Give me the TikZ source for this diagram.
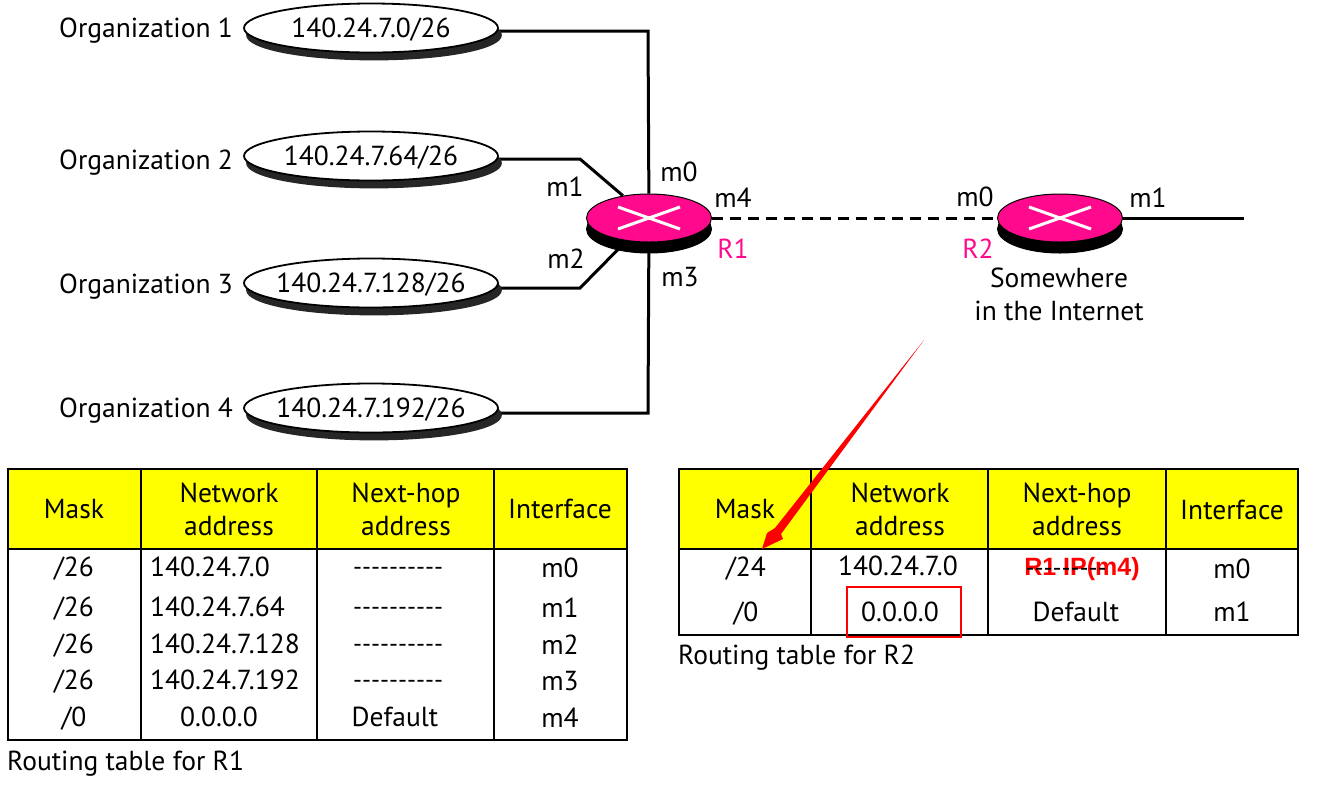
\documentclass[tikz,border=0pt]{standalone}
\usepackage{fontspec}
\setmainfont{PT Sans}
\usetikzlibrary{calc,shapes.geometric,shadows,backgrounds}
\definecolor{routerpink}{HTML}{FF0A8C}
\definecolor{headyellow}{HTML}{FFFF00}
\newcommand{\orgtext}[1]{\makebox[0pt]{\smash{\raisebox{-9.5pt}{#1}}}}
\tikzset{
  txt/.style={font=\fontsize{27.5}{33}\selectfont, inner sep=0pt, align=center},
  dashes/.style={font=\fontsize{25}{33}\selectfont, inner sep=0pt},
  org/.style={ellipse, draw=black, line width=1.8pt, fill=white, minimum width=254, minimum height=49, inner sep=0pt,
    txt, copy shadow={shadow xshift=3pt, shadow yshift=-7pt, fill=black!85, draw=black!85}},
  router/.style={ellipse, fill=routerpink, draw=black, line width=1pt, minimum width=125, minimum height=48, inner sep=0pt,
    copy shadow={shadow xshift=0pt, shadow yshift=-11pt, fill=black, draw=black}},
  link/.style={line width=3pt},
  cross/.style={white, line width=3pt},
  grid/.style={line width=2pt}
}
\begin{document}
\begin{tikzpicture}[x=1pt, y=-1pt]

\useasboundingbox (0,0) rectangle (1334,788);

\node[txt, anchor=west] (name1) at (59,31) {Organization 1};
\node[txt, anchor=west] (name2) at (59,163) {Organization 2};
\node[txt, anchor=west] (name3) at (59,287) {Organization 3};
\node[txt, anchor=west] (name4) at (59,411) {Organization 4};
\node[org] (org1) at (371,28) {\orgtext{140.24.7.0/26}};
\node[org] (org2) at (371,156) {\orgtext{140.24.7.64/26}};
\node[org] (org3) at (371,283) {\orgtext{140.24.7.128/26}};
\node[org] (org4) at (371,408) {\orgtext{140.24.7.192/26}};

\node[router] (r1) at (649,218) {};
\node[router] (r2) at (1060,218) {};
\draw[cross] ($(r1)+(-31,-11)$) -- ($(r1)+(31,11)$);
\draw[cross] ($(r1)+(-31,11)$) -- ($(r1)+(31,-11)$);
\draw[cross] ($(r2)+(-31,-11)$) -- ($(r2)+(31,11)$);
\draw[cross] ($(r2)+(-31,11)$) -- ($(r2)+(31,-11)$);
\coordinate (r2end) at (1244,218);

\begin{scope}[on background layer]
\draw[link] ([yshift=-3pt]org1.east) -- (648,31) -- (r1);
\draw[link] ([yshift=-3pt]org2.east) -- (580,159) -- (r1);
\draw[link] ([yshift=-5pt]org3.east) -- (580,288) -- (r1);
\draw[link] ([yshift=-5pt]org4.east) -- (648,413) -- (r1);
\end{scope}
\draw[link, dash pattern=on 11pt off 7pt] (r1.east) -- (r2.west);
\draw[link] (r2.east) -- (r2end);

\node[txt] (lm0) at (679,172) {m0};
\node[txt] (lm4) at (733,198) {m4};
\node[txt] (lm1) at (565,187) {m1};
\node[txt] (lm2) at (566,259) {m2};
\node[txt] (lm3) at (680,277) {m3};
\node[txt, routerpink] (lr1) at (733,249) {R1};
\node[txt] (rm0) at (975,197) {m0};
\node[txt] (rm1) at (1148,198) {m1};
\node[txt, routerpink] (lr2) at (978,249) {R2};
\node[txt] (where) at (1059,294) {Somewhere\\in the Internet};

\fill[headyellow] (8,469) rectangle (627,549);
\fill[headyellow] (679,469) rectangle (1298,549);
\draw[grid] (8,469) rectangle (627,740);
\draw[grid] (8,549) -- (627,549);
\draw[grid] (679,469) rectangle (1298,635);
\draw[grid] (679,549) -- (1298,549);
\foreach \x in {141,317,494} {
  \draw[grid] (\x,469) -- (\x,740);
}
\foreach \x in {811,988,1166} {
  \draw[grid] (\x,469) -- (\x,635);
}

\node[txt] (amask) at (74,509) {Mask};
\node[txt] (anet) at (229,509) {Network\\address};
\node[txt] (ahop) at (406,509) {Next-hop\\address};
\node[txt] (aint) at (560,509) {Interface};
\foreach \y/\net/\m [count=\i] in {567/0/0,607/64/1,644/128/2,680/192/3} {
  \node[txt] (amask\i) at (74,\y+2) {/26};
  \node[txt, anchor=west] (anet\i) at (150,\y) {140.24.7.\net};
  \node[dashes] (ahop\i) at (398,\y+4) {-{}-{}-{}-{}-{}-{}-{}-{}-{}-};
  \node[txt] (aint\i) at (560,\y+1) {m\m};
}
\node[txt] (amask5) at (74,719) {/0};
\node[txt] (anet5) at (219,717) {0.0.0.0};
\node[txt] (ahop5) at (395,717) {Default};
\node[txt] (aint5) at (560,718) {m4};
\node[txt, anchor=west] (acap) at (7,764) {Routing table for R1};

\node[txt] (bmask) at (745,509) {Mask};
\node[txt] (bnet) at (900,509) {Network\\address};
\node[txt] (bhop) at (1077,509) {Next-hop\\address};
\node[txt] (bint) at (1232,510) {Interface};
\node[txt] (bmask1) at (746,569) {/24};
\node[txt] (bnet1) at (898,566) {140.24.7.0};
\node[txt, red, font=\fontsize{25}{30}\selectfont\fontspec{Liberation Sans}\bfseries] (bip) at (1082,569) {R1 IP(m4)};
\node[dashes] (bhop1) at (1066,572) {-{}-{}-{}-{}-{}-{}-{}-{}-};
\node[txt] (bint1) at (1232,569) {m0};
\node[txt] (bmask2) at (746,614) {/0};
\node[txt] (bnet2) at (900,612) {0.0.0.0};
\node[txt] (bhop2) at (1076,612) {Default};
\node[txt] (bint2) at (1232,612) {m1};
\node[txt, anchor=west] (bcap) at (678,658) {Routing table for R2};
\node[draw=red, line width=1.8pt, minimum width=114, minimum height=50, inner sep=0pt] (bbox) at (904,612) {};

\coordinate (arrowtop) at (924,340);
\coordinate (arrowtip) at (762,549);
\fill[red] (arrowtop) -- (781,534) -- (783,539) -- (arrowtip) -- (767,533) -- (775,528) -- cycle;

\end{tikzpicture}
\end{document}
